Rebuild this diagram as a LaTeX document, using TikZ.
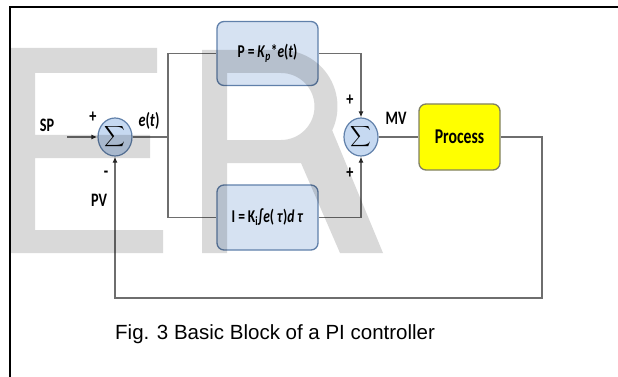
\documentclass[tikz,border=0pt]{standalone}
\usepackage{exscale}
\usepackage{fontspec}
\setmainfont{Liberation Sans}
\newfontfamily\blockfont[FakeStretch=0.75]{Carlito}
\usepackage{tikz}
\usetikzlibrary{arrows.meta,shapes.geometric}

\definecolor{blockfill}{RGB}{214,226,242}
\definecolor{blockline}{RGB}{96,128,170}
\definecolor{sumfill}{RGB}{198,217,241}
\definecolor{procfill}{RGB}{255,255,0}
\definecolor{procline}{RGB}{128,128,100}
\definecolor{wirecol}{RGB}{110,110,110}

\begin{document}
\begin{tikzpicture}[x=1pt,y=-1pt]
  \tikzstyle{block} = [draw=blockline, fill=blockfill, line width=1.3pt, rounded corners=7pt,
    minimum width=101pt, minimum height=64pt, font=\blockfont\bfseries\fontsize{18}{20}\selectfont];
  \tikzstyle{process} = [block, draw=procline, fill=procfill, minimum width=81pt, minimum height=66pt,
    font=\blockfont\bfseries\fontsize{21}{24}\selectfont];
  \tikzstyle{sum} = [ellipse, draw=blockline, fill=sumfill, line width=1.2pt,
    minimum width=34pt, minimum height=38pt, inner sep=0pt, font=\Large];
  \tikzstyle{lbl} = [inner sep=0pt, font=\blockfont\bfseries\fontsize{19}{21}\selectfont];
  \tikzstyle{wire} = [draw=wirecol, line width=1.3pt];
  \tikzstyle{into} = [-{Latex[length=6pt,width=5pt,color=black!85]}];
  \tikzstyle{watermark} = [fill=black, opacity=0.15];
  \useasboundingbox (0,0) rectangle (618,377);

  % page edge
  \draw[line width=2pt] (10,377) -- (10,7) -- (618,7);

  % summing points and blocks
  \node[sum] (sum1) at (115,137) {$\displaystyle\sum$};
  \node[sum] (sum2) at (361,137) {$\displaystyle\sum$};
  \node[block] (pblock) at (267.5,53.5) {P\,=\,\textit{K}\textsubscript{\textit{p}}*\textit{e}(\textit{t})};
  \node[block, minimum height=65pt] (iblock) at (267.5,217.5) {I\,=\,K\textsubscript{i}∫\textit{e}(\,\textit{τ})\textit{d\,τ}};
  \node[process] (process) at (459.5,137) {Process};

  % signal names
  \node[lbl] (sp) at (47,125) {SP};
  \node[lbl] (et) at (149,121) {\textit{e}(\textit{t})};
  \node[lbl] (pv) at (99,200) {PV};
  \node[lbl] (mv) at (396,118) {MV};
  \foreach \n/\x/\y/\s in {psp/93/117/+, mpv/106/174/-, pp/350/100/+, pi/350/173/+}{
    \node[lbl] (\n) at (\x,\y) {\s};
  }

  \coordinate (spin) at (67,137);
  \coordinate (split) at (168,137);
  \coordinate (fbk) at (542,298);

  % connections
  \draw[wire, into] (spin) -- (sum1.west);
  \draw[wire] (sum1.east) -- (split) |- (pblock.west);
  \draw[wire] (split) |- (iblock.west);
  \draw[wire, into] (pblock.east) -| (sum2.north);
  \draw[wire, into] (iblock.east) -| (sum2.south);
  \draw[wire] (sum2.east) -- (process.west);
  \draw[wire, into] (process.east) -| (fbk) -| (sum1.south);

  % large letters behind the figure
  \fill[watermark] (11,48) -- (157,48) -- (157,73) -- (35,73) -- (35,135) -- (150,135) -- (150,158)
    -- (35,158) -- (35,230) -- (163,230) -- (163,253) -- (11,253) -- cycle;
  \fill[watermark, even odd rule] (202,253) -- (202,50) -- (281,50)
    arc[start angle=-90, end angle=25, radius=56.5] -- (383,253) -- (340,253) -- (301,163)
    -- (227,163) -- (227,253) -- cycle
    (227,73) -- (281,73) arc[start angle=-90, end angle=90, radius=33.5] -- (227,140) -- cycle;

  \node[anchor=base west, inner sep=0pt, font=\fontsize{20.5}{24}\selectfont] (caption) at (115,339)
    {Fig. 3 Basic Block of a PI controller};
\end{tikzpicture}
\end{document}
